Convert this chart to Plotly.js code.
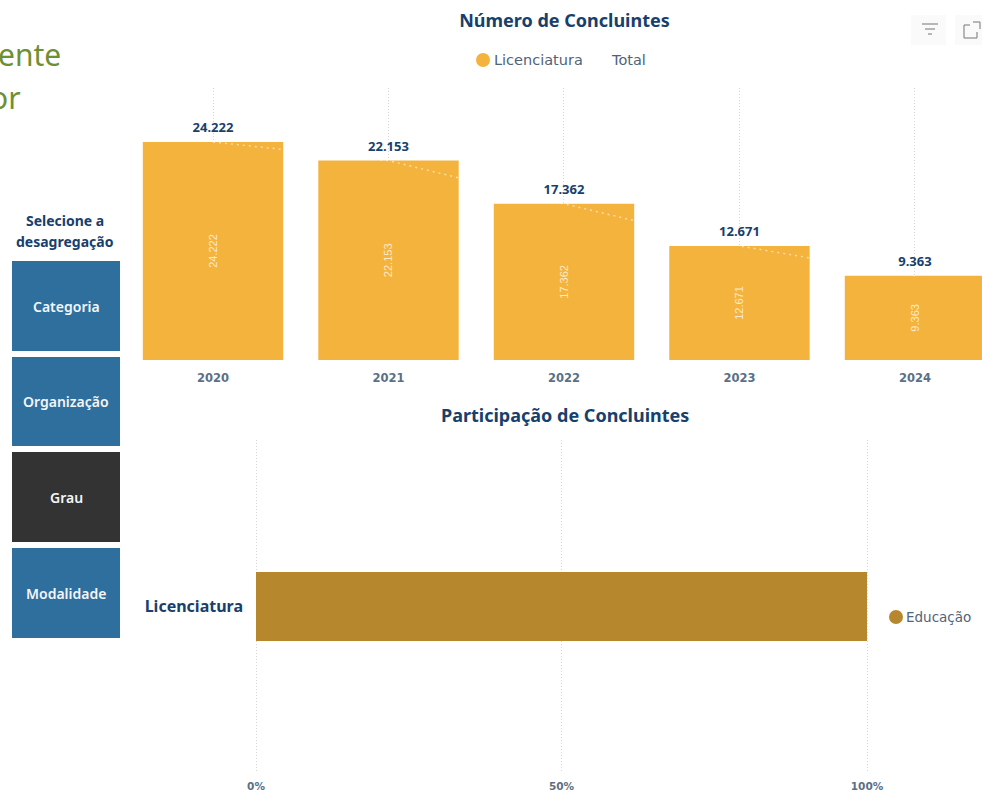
<!DOCTYPE html>
<html><head><meta charset="utf-8">
<script src="https://cdn.plot.ly/plotly-3.0.0.min.js"></script>
<style>html,body{margin:0;padding:0;background:#fff;overflow:hidden}#c{width:982px;height:793px}</style>
</head><body><div id="c"></div>
<script>
const years = ['2020','2021','2022','2023','2024'];
const licenciatura = [24222,22153,17362,12671,9363];
const total = [24222,22153,17362,12671,9363];
const shareCategories = ['Licenciatura'];
const shareEducacao = [1];
const buttons = ['Categoria','Organização','Grau','Modalidade'];

const W=982,H=793;
const px=x=>x/W, py=y=>1-y/H;
const navy='#17406d', orange='#F4B33C', brown='#B7872D', blue='#2E6F9E', dark='#333333', green='#6F9032', grey='#4f6478', tick='#5a7086';
const fmt=v=>String(v).replace(/\B(?=(\d{3})+$)/g,'.');
const sans='"Noto Sans", sans-serif';
const deja='"DejaVu Sans", sans-serif';

function label(text,x,y,font){
  return {text:text,xref:'paper',yref:'paper',x:px(x),y:py(y),showarrow:false,xanchor:'center',yanchor:'middle',font:font};
}
const rect=(x0,y0,x1,y1,fill)=>({type:'rect',xref:'paper',yref:'paper',x0:px(x0),x1:px(x1),y0:py(y0),y1:py(y1),fillcolor:fill,line:{width:0},layer:'below'});
const circle=(cx,cy,r,fill)=>({type:'circle',xref:'paper',yref:'paper',x0:px(cx-r),x1:px(cx+r),y0:py(cy+r),y1:py(cy-r),fillcolor:fill,line:{width:0}});
const seg=(x0,y0,x1,y1,c)=>({type:'line',xref:'paper',yref:'paper',x0:px(x0),x1:px(x1),y0:py(y0),y1:py(y1),line:{color:c,width:1.2}});

const buttonBoxes=[[261,351,blue],[357,446,blue],[452,542,dark],[548,638,blue]];
const shapes=[
  rect(911,15,946,45,'#fafafa'), rect(955,15,982,45,'#fafafa'),
  seg(922,24,938,24,'#8a8a8a'), seg(925,29,935,29,'#8a8a8a'), seg(928,34,932,34,'#8a8a8a'),
  seg(964,25,964,38,'#8a8a8a'), seg(964,38,977,38,'#8a8a8a'), seg(977,38,977,32,'#8a8a8a'),
  seg(964,25,970,25,'#8a8a8a'), seg(973,22,980,22,'#8a8a8a'), seg(980,22,980,29,'#8a8a8a'),
  circle(483,60,7,orange), circle(896,617,7,brown)
];
const bold=(s,c)=>({family:sans,size:s,color:c,weight:700});
const annotations=[
  Object.assign(label('ente',63,55,{family:sans,size:30,color:green}),{xanchor:'right'}),
  Object.assign(label('or',23,97,{family:sans,size:30,color:green}),{xanchor:'right'}),
  label('Selecione a',64.5,221,bold(14,navy)),
  label('desagregação',64.5,241,bold(14,navy)),
  label('Participação de Concluintes',564.5,415,bold(18,navy)),
  label('Licenciatura',538.5,60,{family:deja,size:14.5,color:grey}),
  label('Total',628,60,{family:deja,size:14.5,color:grey}),
  label('Educação',938,617,{family:deja,size:13.5,color:grey})
];
buttons.forEach((b,i)=>{
  const [y0,y1,c]=buttonBoxes[i];
  shapes.push(rect(12,y0,120,y1,c));
  annotations.push(label(b,66,(y0+y1)/2,{family:sans,size:14,color:'#f4f6f8',weight:600}));
});

const traces=[
  {type:'bar',x:years,y:licenciatura,name:'Licenciatura',width:0.8,marker:{color:orange},
   text:licenciatura.map(fmt),textposition:'inside',insidetextanchor:'middle',textangle:-90,
   insidetextfont:{family:'"Liberation Sans","DejaVu Sans",sans-serif',size:11,color:'#fbeacb'},
   hoverinfo:'x+y',xaxis:'x',yaxis:'y'},
  {type:'scatter',mode:'lines',x:years,y:total,name:'Total',line:{color:'rgba(255,255,255,0.55)',width:1.5,dash:'2px,4px'},
   hoverinfo:'skip',xaxis:'x',yaxis:'y'},
  {type:'scatter',mode:'markers+text',x:years,y:total,name:'Total',text:total.map(fmt),textposition:'top center',
   marker:{size:9,opacity:0},
   textfont:{family:'Noto Sans',size:13,color:navy,weight:700},hoverinfo:'x+y',xaxis:'x',yaxis:'y'},
  {type:'bar',orientation:'h',y:shareCategories,x:shareEducacao,name:'Educação',width:0.207,marker:{color:brown},
   hoverinfo:'y+x',xaxis:'x2',yaxis:'y2'}
];

const layout={
  width:W,height:H,margin:{l:0,r:0,t:0,b:0},paper_bgcolor:'#fff',plot_bgcolor:'rgba(0,0,0,0)',
  showlegend:false,
  title:{text:'Número de Concluintes',x:px(564.5),xanchor:'center',y:py(21),yanchor:'middle',font:bold(18,navy)},
  xaxis:{type:'category',domain:[px(125.25),1],range:[-0.5,4.382],anchor:'y',showgrid:true,griddash:'1px,2px',gridcolor:'#d6d6d6',gridwidth:1,
    zeroline:false,showline:false,ticks:'',tickfont:{family:deja,size:11.5,color:tick,weight:700},ticklabelstandoff:9},
  yaxis:{domain:[py(360),py(88)],range:[0,30222],anchor:'x',showgrid:false,zeroline:false,showline:false,showticklabels:false,ticks:''},
  xaxis2:{domain:[px(246),px(877)],range:[-10/611,1+10/611],anchor:'y2',tickvals:[0,0.5,1],ticktext:['0%','50%','100%'],showgrid:true,griddash:'1px,2px',gridcolor:'#d6d6d6',gridwidth:1,
    zeroline:false,showline:false,ticks:'',tickfont:{family:deja,size:10.5,color:tick,weight:700},ticklabelstandoff:5},
  yaxis2:{type:'category',domain:[py(773),py(440)],anchor:'x2',range:[-0.5,0.5],showgrid:false,zeroline:false,showline:false,ticks:'',
    tickfont:bold(16,navy),ticklabelstandoff:2},
  shapes:shapes,annotations:annotations
};
Plotly.newPlot('c',traces,layout,{displayModeBar:false,responsive:false});
</script></body></html>
